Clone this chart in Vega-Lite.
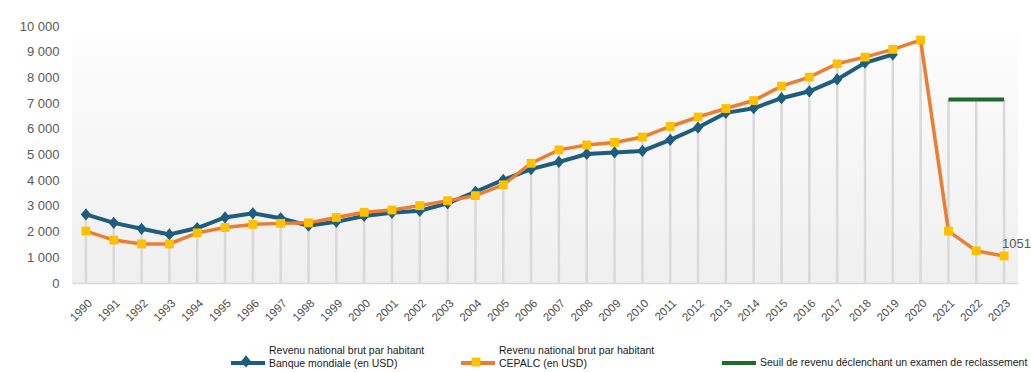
{
  "$schema": "https://vega.github.io/schema/vega-lite/v6.json",
  "width": 946,
  "height": 257,
  "autosize": {"type": "none"},
  "padding": {"left": 72, "top": 26, "right": 13, "bottom": 89},
  "background": "white",
  "config": {
    "font": "Liberation Sans",
    "view": {
      "stroke": null,
      "fill": {"gradient": "linear", "x1": 0, "y1": 0, "x2": 0, "y2": 1,
        "stops": [{"offset": 0, "color": "#ffffff"}, {"offset": 0.14, "color": "#fbfbfb"}, {"offset": 1, "color": "#efefef"}]}
    }
  },
  "data": {
    "values": [
      {"year": "1990", "series": "BM", "value": 2670},
      {"year": "1991", "series": "BM", "value": 2340},
      {"year": "1992", "series": "BM", "value": 2110},
      {"year": "1993", "series": "BM", "value": 1890},
      {"year": "1994", "series": "BM", "value": 2140},
      {"year": "1995", "series": "BM", "value": 2550},
      {"year": "1996", "series": "BM", "value": 2710},
      {"year": "1997", "series": "BM", "value": 2520},
      {"year": "1998", "series": "BM", "value": 2230},
      {"year": "1999", "series": "BM", "value": 2380},
      {"year": "2000", "series": "BM", "value": 2610},
      {"year": "2001", "series": "BM", "value": 2730},
      {"year": "2002", "series": "BM", "value": 2810},
      {"year": "2003", "series": "BM", "value": 3100},
      {"year": "2004", "series": "BM", "value": 3550},
      {"year": "2005", "series": "BM", "value": 4010},
      {"year": "2006", "series": "BM", "value": 4430},
      {"year": "2007", "series": "BM", "value": 4710},
      {"year": "2008", "series": "BM", "value": 5020},
      {"year": "2009", "series": "BM", "value": 5080},
      {"year": "2010", "series": "BM", "value": 5140},
      {"year": "2011", "series": "BM", "value": 5570},
      {"year": "2012", "series": "BM", "value": 6050},
      {"year": "2013", "series": "BM", "value": 6620},
      {"year": "2014", "series": "BM", "value": 6800},
      {"year": "2015", "series": "BM", "value": 7190},
      {"year": "2016", "series": "BM", "value": 7460},
      {"year": "2017", "series": "BM", "value": 7920},
      {"year": "2018", "series": "BM", "value": 8570},
      {"year": "2019", "series": "BM", "value": 8890},
      {"year": "1990", "series": "CEPALC", "value": 2020},
      {"year": "1991", "series": "CEPALC", "value": 1670},
      {"year": "1992", "series": "CEPALC", "value": 1520},
      {"year": "1993", "series": "CEPALC", "value": 1520},
      {"year": "1994", "series": "CEPALC", "value": 1950},
      {"year": "1995", "series": "CEPALC", "value": 2160},
      {"year": "1996", "series": "CEPALC", "value": 2280},
      {"year": "1997", "series": "CEPALC", "value": 2320},
      {"year": "1998", "series": "CEPALC", "value": 2340},
      {"year": "1999", "series": "CEPALC", "value": 2550},
      {"year": "2000", "series": "CEPALC", "value": 2750},
      {"year": "2001", "series": "CEPALC", "value": 2840},
      {"year": "2002", "series": "CEPALC", "value": 3010},
      {"year": "2003", "series": "CEPALC", "value": 3200},
      {"year": "2004", "series": "CEPALC", "value": 3400},
      {"year": "2005", "series": "CEPALC", "value": 3820},
      {"year": "2006", "series": "CEPALC", "value": 4660},
      {"year": "2007", "series": "CEPALC", "value": 5180},
      {"year": "2008", "series": "CEPALC", "value": 5370},
      {"year": "2009", "series": "CEPALC", "value": 5470},
      {"year": "2010", "series": "CEPALC", "value": 5680},
      {"year": "2011", "series": "CEPALC", "value": 6090},
      {"year": "2012", "series": "CEPALC", "value": 6460},
      {"year": "2013", "series": "CEPALC", "value": 6790},
      {"year": "2014", "series": "CEPALC", "value": 7100},
      {"year": "2015", "series": "CEPALC", "value": 7660},
      {"year": "2016", "series": "CEPALC", "value": 8010},
      {"year": "2017", "series": "CEPALC", "value": 8530},
      {"year": "2018", "series": "CEPALC", "value": 8790},
      {"year": "2019", "series": "CEPALC", "value": 9090},
      {"year": "2020", "series": "CEPALC", "value": 9450},
      {"year": "2021", "series": "CEPALC", "value": 2020},
      {"year": "2022", "series": "CEPALC", "value": 1250},
      {"year": "2023", "series": "CEPALC", "value": 1051},
      {"year": "2021", "series": "Seuil", "value": 7140},
      {"year": "2022", "series": "Seuil", "value": 7140},
      {"year": "2023", "series": "Seuil", "value": 7140}
    ]
  },
  "encoding": {
    "x": {
      "field": "year", "type": "ordinal",
      "scale": {"type": "point", "padding": 0.5},
      "axis": {"title": null, "labelAngle": -45, "labelFontSize": 11.5, "labelColor": "#4d4d4d",
        "ticks": false, "grid": false, "domainColor": "#d9d9d9", "domainWidth": 1.5, "labelPadding": 14}
    },
    "y": {
      "field": "value", "type": "quantitative",
      "scale": {"domain": [0, 10000], "nice": false},
      "axis": {"title": null, "domain": false, "ticks": false, "grid": false,
        "values": [0, 1000, 2000, 3000, 4000, 5000, 6000, 7000, 8000, 9000, 10000],
        "labelExpr": "replace(format(datum.value, ',d'), ',', ' ')",
        "labelFontSize": 13, "labelColor": "#595959", "labelPadding": 13}
    }
  },
  "layer": [
    {
      "mark": {"type": "rule", "color": "#d9d9d9", "strokeWidth": 2.5},
      "encoding": {
        "y": {"aggregate": "max", "field": "value", "type": "quantitative",
          "scale": {"domain": [0, 10000], "nice": false},
          "axis": {"title": null, "domain": false, "ticks": false, "grid": false,
            "values": [0, 1000, 2000, 3000, 4000, 5000, 6000, 7000, 8000, 9000, 10000],
            "labelExpr": "replace(format(datum.value, ',d'), ',', ' ')",
            "labelFontSize": 13, "labelColor": "#595959", "labelPadding": 13}},
        "y2": {"datum": 0}
      }
    },
    {
      "transform": [{"filter": "datum.series == 'BM'"}],
      "mark": {"type": "line", "strokeWidth": 4},
      "encoding": {
        "color": {
          "field": "series", "type": "nominal",
          "scale": {"domain": ["BM", "CEPALC", "Seuil"], "range": ["#1d5e7e", "#ed7d31", "#1f6b2b"]},
          "legend": {"title": null, "orient": "none", "legendX": 157, "legendY": 318, "direction": "horizontal",
            "values": ["BM", "CEPALC"],
            "columns": 2, "columnPadding": 28, "symbolType": "stroke", "symbolSize": 1156, "symbolStrokeWidth": 4,
            "labelExpr": "datum.label == 'BM' ? ['Revenu national brut par habitant', 'Banque mondiale (en USD)'] : ['Revenu national brut par habitant', 'CEPALC (en USD)']",
            "labelFont": "Liberation Sans", "labelFontSize": 10.5, "labelColor": "#1a1a1a", "labelOffset": 2, "labelLimit": 400,
            "encode": {"labels": {"update": {"dy": {"value": -12}}}}}
        }
      }
    },
    {
      "transform": [{"filter": "datum.series == 'BM'"}],
      "mark": {"type": "point", "filled": true, "size": 1156, "opacity": 1, "strokeWidth": 0},
      "encoding": {
        "fill": {
          "field": "series", "type": "nominal",
          "scale": {"domain": ["BM", "CEPALC"], "range": ["#1d5e7e", "#ffc000"]},
          "legend": {"title": null, "orient": "none", "legendX": 157, "legendY": 318, "direction": "horizontal",
            "columns": 2, "columnPadding": 194, "symbolSize": 1156, "symbolStrokeWidth": 0,
            "labelExpr": "''", "labelOffset": 2}
        },
        "shape": {
          "field": "series", "type": "nominal",
          "scale": {"domain": ["BM", "CEPALC"], "range": ["M0,-0.36L0.3,0L0,0.36L-0.3,0Z", "M-0.26,-0.26H0.26V0.26H-0.26Z"]},
          "legend": {"title": null, "orient": "none", "legendX": 157, "legendY": 318, "direction": "horizontal",
            "columns": 2, "columnPadding": 194, "symbolSize": 1156, "symbolStrokeWidth": 0,
            "labelExpr": "''", "labelOffset": 2}
        }
      }
    },
    {
      "transform": [{"filter": "datum.series == 'CEPALC'"}],
      "mark": {"type": "line", "strokeWidth": 3.5},
      "encoding": {"color": {"field": "series", "type": "nominal"}}
    },
    {
      "transform": [{"filter": "datum.series == 'CEPALC'"}],
      "mark": {"type": "point", "filled": true, "size": 1156, "opacity": 1, "strokeWidth": 0},
      "encoding": {
        "fill": {"field": "series", "type": "nominal"},
        "shape": {"field": "series", "type": "nominal"}
      }
    },
    {
      "transform": [{"filter": "datum.series == 'Seuil'"}],
      "mark": {"type": "line", "strokeWidth": 4},
      "encoding": {
        "stroke": {
          "field": "series", "type": "nominal",
          "scale": {"domain": ["Seuil"], "range": ["#1f6b2b"]},
          "legend": {"title": null, "orient": "none", "legendX": 648, "legendY": 318,
            "symbolType": "stroke", "symbolSize": 1156, "symbolStrokeWidth": 4,
            "labelExpr": "'Seuil de revenu déclenchant un examen de reclassement'",
            "labelFont": "Liberation Sans", "labelFontSize": 10.5, "labelColor": "#1a1a1a", "labelOffset": 2, "labelLimit": 400}
        }
      }
    },
    {
      "transform": [{"filter": "datum.series == 'CEPALC' && datum.year == '2023'"}],
      "mark": {"type": "text", "align": "left", "dx": -2, "dy": -12, "fontSize": 13, "color": "#595959"},
      "encoding": {"text": {"field": "value", "type": "quantitative", "format": "d"}}
    }
  ]
}
